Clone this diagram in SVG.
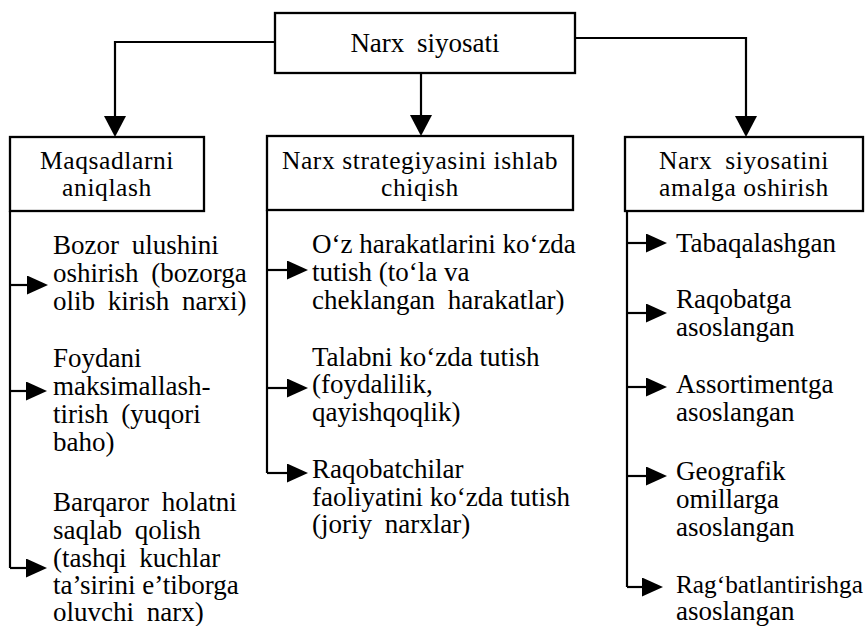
<svg xmlns="http://www.w3.org/2000/svg" width="867" height="626" viewBox="0 0 867 626">
<style>
.box{fill:#fff;stroke:#000;stroke-width:2.3}
.ln{fill:none;stroke:#000;stroke-width:2.2}
.t{font-family:"Liberation Serif","Times New Roman",serif;font-size:27px;fill:#000}
.h{font-size:25.5px;letter-spacing:0.6px}
.c{text-anchor:middle}
.w{word-spacing:6px}
</style>
<defs>
<marker id="big" markerUnits="userSpaceOnUse" markerWidth="22" markerHeight="22" refX="1" refY="11" orient="auto">
<path d="M0,0 L21,11 L0,22 z" fill="#000"/>
</marker>
<marker id="sm" markerUnits="userSpaceOnUse" markerWidth="22" markerHeight="20" refX="1" refY="9.5" orient="auto">
<path d="M0,0 L21,9.5 L0,19 z" fill="#000"/>
</marker>
</defs>
<g id="connectors">
<path class="ln" d="M275,42 H115 V117" marker-end="url(#big)"/>
<path class="ln" d="M421,73 V116" marker-end="url(#big)"/>
<path class="ln" d="M575,38 H746 V117" marker-end="url(#big)"/>
<path class="ln" d="M10,211 V568"/>
<path class="ln" d="M10,285 H28" marker-end="url(#sm)"/>
<path class="ln" d="M10,391 H27" marker-end="url(#sm)"/>
<path class="ln" d="M10,568 H27" marker-end="url(#sm)"/>
<path class="ln" d="M267,210 V473"/>
<path class="ln" d="M267,270 H288" marker-end="url(#sm)"/>
<path class="ln" d="M267,388 H288" marker-end="url(#sm)"/>
<path class="ln" d="M267,473 H288" marker-end="url(#sm)"/>
<path class="ln" d="M627,211 V587"/>
<path class="ln" d="M627,243 H647" marker-end="url(#sm)"/>
<path class="ln" d="M627,313 H647" marker-end="url(#sm)"/>
<path class="ln" d="M627,387 H647" marker-end="url(#sm)"/>
<path class="ln" d="M627,476 H647" marker-end="url(#sm)"/>
<path class="ln" d="M627,587 H643" marker-end="url(#sm)"/>
</g>
<g id="narx-siyosati">
<rect class="box" x="275" y="13" width="300" height="60"/>
<text class="t c w" x="425" y="52">Narx siyosati</text>
</g>
<g id="maqsadlarni">
<rect class="box" x="10" y="137" width="194" height="74"/>
<text class="t h c" x="107" y="169">Maqsadlarni<tspan x="107" y="196">aniqlash</tspan></text>
</g>
<g id="strategiya">
<rect class="box" x="267" y="136" width="306" height="74"/>
<text class="t h c" x="420" y="169">Narx strategiyasini ishlab<tspan x="420" y="196">chiqish</tspan></text>
</g>
<g id="amalga">
<rect class="box" x="625" y="137" width="238" height="74"/>
<text class="t h c" x="744" y="169"><tspan class="w">Narx siyosatini</tspan><tspan x="744" y="196">amalga oshirish</tspan></text>
</g>
<g id="bozor">
<text class="t w" x="53" y="254">Bozor ulushini<tspan x="53" y="282">oshirish (bozorga</tspan><tspan x="53" y="310">olib kirish narxi)</tspan></text>
</g>
<g id="foyda">
<text class="t" x="53" y="367">Foydani<tspan x="53" y="395">maksimallash-</tspan><tspan x="53" y="423" class="w">tirish (yuqori</tspan><tspan x="53" y="451">baho)</tspan></text>
</g>
<g id="barqaror">
<text class="t w" x="53" y="511">Barqaror holatni<tspan x="53" y="539">saqlab qolish</tspan><tspan x="53" y="567">(tashqi kuchlar</tspan><tspan x="53" y="594" style="word-spacing:0">ta’sirini e’tiborga</tspan><tspan x="53" y="621">oluvchi narx)</tspan></text>
</g>
<g id="oz">
<text class="t" x="312" y="253">O‘z harakatlarini ko‘zda<tspan x="312" y="281">tutish (to‘la va</tspan><tspan x="312" y="309" class="w">cheklangan harakatlar)</tspan></text>
</g>
<g id="talab">
<text class="t" x="312" y="366"><tspan class="w">Talabni</tspan> ko‘zda tutish<tspan x="312" y="393">(foydalilik,</tspan><tspan x="312" y="421">qayishqoqlik)</tspan></text>
</g>
<g id="raqobatchilar">
<text class="t" x="312" y="478">Raqobatchilar<tspan x="312" y="506">faoliyatini ko‘zda tutish</tspan><tspan x="312" y="533" class="w">(joriy narxlar)</tspan></text>
</g>
<g id="tabaqa">
<text class="t" x="676" y="252">Tabaqalashgan</text>
</g>
<g id="raqobat">
<text class="t" x="676" y="308">Raqobatga<tspan x="676" y="336">asoslangan</tspan></text>
</g>
<g id="assortiment">
<text class="t" x="676" y="393">Assortimentga<tspan x="676" y="421">asoslangan</tspan></text>
</g>
<g id="geografik">
<text class="t" x="676" y="480">Geografik<tspan x="676" y="508">omillarga</tspan><tspan x="676" y="536">asoslangan</tspan></text>
</g>
<g id="ragbat">
<text class="t" x="676" y="593"><tspan style="font-size:25.3px">Rag‘batlantirishga</tspan><tspan x="676" y="620">asoslangan</tspan></text>
</g>
</svg>
